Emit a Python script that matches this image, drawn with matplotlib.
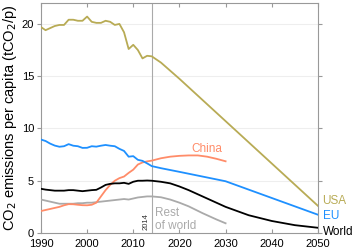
import numpy as np
import matplotlib
matplotlib.use("Agg")
import matplotlib.pyplot as plt

plt.rcParams['font.family'] = ['Liberation Sans', 'DejaVu Sans']

# historical years
years_hist = list(range(1990, 2015))

usa_hist = [19.7, 19.4, 19.6, 19.8, 19.9, 19.9, 20.4, 20.4, 20.3, 20.3, 20.7, 20.2, 20.1,
            20.1, 20.3, 20.2, 19.9, 20.0, 19.2, 17.6, 18.0, 17.5, 16.7, 16.95, 16.9]
eu_hist = [8.94, 8.8, 8.55, 8.36, 8.25, 8.3, 8.5, 8.35, 8.3, 8.14, 8.15, 8.3, 8.26,
           8.35, 8.42, 8.35, 8.3, 8.05, 7.85, 7.3, 7.35, 7.0, 6.9, 6.66, 6.4]
china_hist = [2.1, 2.2, 2.3, 2.4, 2.5, 2.65, 2.76, 2.75, 2.7, 2.66, 2.65, 2.7, 2.9,
              3.5, 4.1, 4.6, 5.0, 5.25, 5.4, 5.75, 6.06, 6.55, 6.75, 6.85, 6.92]
world_hist = [4.23, 4.15, 4.1, 4.05, 4.05, 4.05, 4.1, 4.1, 4.05, 4.0, 4.05, 4.1, 4.13,
              4.35, 4.6, 4.7, 4.75, 4.75, 4.8, 4.7, 4.9, 5.0, 5.0, 5.02, 5.0]
rest_hist = [3.2, 3.1, 3.0, 2.9, 2.8, 2.8, 2.8, 2.8, 2.85, 2.85, 2.9, 2.9, 2.95,
             3.0, 3.05, 3.1, 3.15, 3.2, 3.25, 3.2, 3.3, 3.4, 3.45, 3.5, 3.5]

# projections
usa_proj_years = [2015, 2016, 2020, 2030, 2040, 2050]
usa_proj = [16.6, 16.3, 14.75, 10.7, 6.65, 2.6]
eu_proj_years = [2016, 2020, 2025, 2030, 2040, 2050]
eu_proj = [6.2, 5.85, 5.4, 4.95, 3.35, 1.75]
china_proj_years = [2016, 2018, 2020, 2022, 2024, 2026, 2028, 2030]
china_proj = [7.15, 7.3, 7.38, 7.42, 7.42, 7.3, 7.1, 6.86]
world_proj_years = [2016, 2018, 2020, 2022, 2025, 2030, 2035, 2040, 2045, 2050]
world_proj = [4.9, 4.75, 4.45, 4.1, 3.5, 2.5, 1.7, 1.15, 0.75, 0.5]
rest_proj_years = [2016, 2018, 2020, 2022, 2025, 2028, 2030]
rest_proj = [3.42, 3.2, 2.9, 2.55, 1.9, 1.3, 0.93]

c_usa = '#b8ab55'
c_eu = '#1e90ff'
c_china = '#ff8c69'
c_world = '#000000'
c_rest = '#aaaaaa'
spine_c = '#999999'

fig = plt.figure(figsize=(3.56, 2.5), dpi=100)
ax = fig.add_axes([0.115, 0.068, 0.778, 0.92])

ax.axvline(2014, color='#aaaaaa', lw=0.8, zorder=1)

for yrs, h, py, p, c in [
    (years_hist, rest_hist, rest_proj_years, rest_proj, c_rest),
    (years_hist, china_hist, china_proj_years, china_proj, c_china),
    (years_hist, world_hist, world_proj_years, world_proj, c_world),
    (years_hist, eu_hist, eu_proj_years, eu_proj, c_eu),
    (years_hist, usa_hist, usa_proj_years, usa_proj, c_usa),
]:
    ax.plot(list(yrs) + py, h + p, color=c, lw=1.3, solid_joinstyle='round', zorder=3)

ax.set_xlim(1990, 2050)
ax.set_ylim(0, 22)
ax.set_xticks(range(1990, 2051, 10))
ax.set_yticks([0, 5, 10, 15, 20])
for yv in [5, 10, 15, 20]:
    ax.axhline(yv, color='#eeeeee', lw=0.8, zorder=0)

for s in ax.spines.values():
    s.set_color(spine_c)
    s.set_linewidth(0.8)

ax.tick_params(axis='x', direction='in', length=3, color=spine_c, labelsize=8,
               top=True, pad=4.5)
ax.tick_params(axis='y', direction='out', length=3, color=spine_c, labelsize=8,
               right=True, pad=2)

ax.set_ylabel('CO$_2$ emissions per capita (tCO$_2$/p)', fontsize=10.5, labelpad=2)

ax.text(2051, 3.1, 'USA', color=c_usa, fontsize=8.5, va='center', ha='left', clip_on=False)
ax.text(2051, 1.6, 'EU', color=c_eu, fontsize=8.5, va='center', ha='left', clip_on=False)
ax.text(2051, 0.1, 'World', color=c_world, fontsize=8.5, va='center', ha='left', clip_on=False)
ax.text(2026, 8.0, 'China', color=c_china, fontsize=8.5, va='center', ha='center')
ax.text(2014.8, 1.3, 'Rest\nof world', color=c_rest, fontsize=8.5, va='center', ha='left',
        linespacing=1.15)
ax.text(2013.6, 0.3, '2014', color='#333333', fontsize=5.5, rotation=90, ha='right', va='bottom')

fig.savefig('out.png', dpi=100)
